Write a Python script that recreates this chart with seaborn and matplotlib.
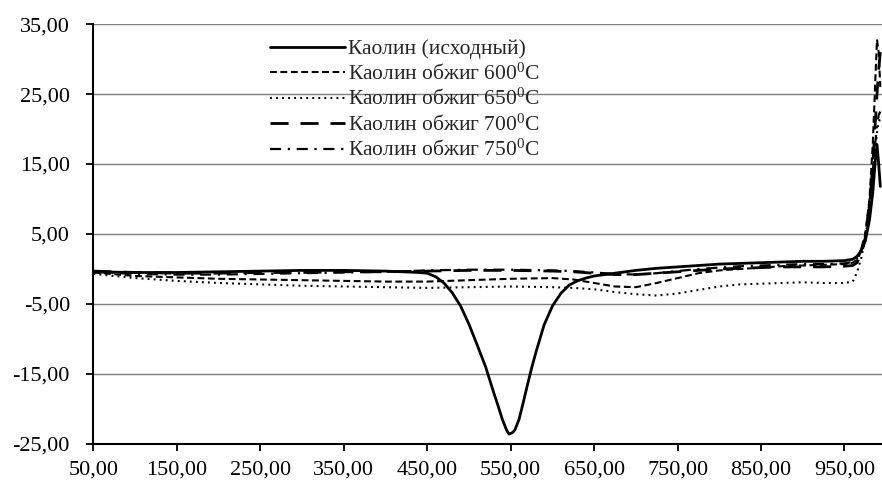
import numpy as np
import pandas as pd
import seaborn as sns
import matplotlib
matplotlib.use("Agg")
import matplotlib.pyplot as plt
from matplotlib.ticker import FuncFormatter, FixedLocator

# ---------------- data ----------------
labels = ["Каолин (исходный)",
          "Каолин обжиг 600$^{\\mathrm{0}}$C",
          "Каолин обжиг 650$^{\\mathrm{0}}$C",
          "Каолин обжиг 700$^{\\mathrm{0}}$C",
          "Каолин обжиг 750$^{\\mathrm{0}}$C"]

t_raw = [50, 100, 150, 200, 250, 300, 350, 400, 440, 450, 460, 470, 480, 490, 500,
         510, 520, 525, 530, 535, 540, 545, 548, 552, 555, 560, 565, 570, 575, 580,
         590, 600, 610, 620, 630, 640, 650, 675, 700, 725, 750, 775, 800, 825, 850,
         875, 900, 925, 950, 960, 965, 970, 975, 980, 984, 987, 989, 991, 993]
v_raw = [-0.4, -0.5, -0.5, -0.4, -0.3, -0.2, -0.2, -0.3, -0.5, -0.6, -1.1, -2.0, -3.4, -5.3, -7.9,
         -10.9, -14.0, -15.9, -17.8, -19.6, -21.5, -23.0, -23.6, -23.4, -23.0, -21.5, -19.1, -16.6, -14.2, -12.0,
         -8.0, -5.3, -3.5, -2.3, -1.7, -1.3, -1.0, -0.6, -0.2, 0.1, 0.3, 0.5, 0.7, 0.8, 0.9,
         1.0, 1.1, 1.1, 1.2, 1.4, 1.8, 2.6, 4.0, 7.0, 11.0, 15.5, 17.8, 15.0, 11.8]

t_fired = [50, 100, 150, 200, 250, 300, 350, 400, 450, 500, 550, 600, 625, 650, 675,
           700, 725, 750, 775, 800, 825, 850, 875, 900, 925, 950, 960, 965, 970, 975,
           980, 984, 987, 989, 991, 993]
v_600 = [-0.5, -1.0, -1.2, -1.4, -1.5, -1.6, -1.7, -1.8, -1.8, -1.6, -1.4, -1.3, -1.5, -2.0, -2.5,
         -2.6, -2.0, -1.3, -0.6, -0.2, 0.0, 0.2, 0.4, 0.5, 0.6, 0.7, 0.9, 1.3, 2.5, 5.0,
         10.0, 18.0, 27.0, 32.8, 31.0, 26.0]
v_650 = [-0.7, -1.3, -1.7, -2.0, -2.2, -2.4, -2.5, -2.6, -2.7, -2.6, -2.5, -2.6, -2.7, -2.9, -3.3,
         -3.6, -3.8, -3.5, -3.0, -2.5, -2.2, -2.1, -2.0, -1.9, -2.0, -2.0, -1.8, -0.5, 1.5, 4.5,
         8.5, 13.0, 17.0, 19.5, 21.0, 21.5]
v_700 = [-0.3, -0.5, -0.6, -0.6, -0.5, -0.5, -0.4, -0.4, -0.3, -0.2, -0.2, -0.3, -0.4, -0.6, -0.8,
         -0.8, -0.6, -0.4, -0.2, 0.0, 0.1, 0.2, 0.3, 0.3, 0.3, 0.4, 0.5, 0.9, 2.0, 4.5,
         9.0, 15.0, 21.0, 25.0, 28.5, 31.0]
v_750 = [-0.4, -0.7, -0.8, -0.8, -0.7, -0.6, -0.5, -0.4, -0.2, -0.1, -0.1, -0.2, -0.3, -0.5, -0.7,
         -0.8, -0.6, -0.3, 0.0, 0.2, 0.4, 0.5, 0.6, 0.7, 0.7, 0.8, 1.0, 1.5, 2.8, 5.0,
         9.5, 14.0, 18.0, 20.5, 22.0, 22.5]

x_ticks = [50, 150, 250, 350, 450, 550, 650, 750, 850, 950]
y_ticks = [-25, -15, -5, 5, 15, 25, 35]

# ---------------- frame ----------------
frames = [pd.DataFrame({"T": t_raw, "v": v_raw, "s": labels[0]})]
for lab, vals in zip(labels[1:], [v_600, v_650, v_700, v_750]):
    frames.append(pd.DataFrame({"T": t_fired, "v": vals, "s": lab}))
df = pd.concat(frames, ignore_index=True)

sns.set_style("white")
plt.rcParams["font.family"] = ["Liberation Serif", "DejaVu Serif"]
plt.rcParams["mathtext.fontset"] = "custom"
plt.rcParams["mathtext.rm"] = "Liberation Serif"
plt.rcParams["mathtext.it"] = "Liberation Serif:italic"

fig = plt.figure(figsize=(8.82, 4.82), dpi=100)
ax = fig.add_axes([0.106, 0.079, 0.894, 0.871])

styles = [
    dict(lw=2.0, dashes=None),
    dict(lw=1.5, dashes=(3.3, 1.7)),
    dict(lw=1.5, dashes=(0.9, 2.0)),
    dict(lw=2.0, dashes=(6.5, 4.3)),
    dict(lw=1.6, dashes=(5.0, 3.0, 1.0, 3.0)),
]

handles = []
for lab, st in zip(labels, styles):
    sub = df[df["s"] == lab]
    sns.lineplot(data=sub, x="T", y="v", ax=ax, color="black", lw=st["lw"],
                 estimator=None, sort=False, legend=False)
    line = ax.lines[-1]
    line.set_solid_joinstyle("round")
    if st["dashes"] is not None:
        line.set_dashes(st["dashes"])
    handles.append(line)

ax.set_xlim(50, 995)
ax.set_ylim(-25, 35)
ax.xaxis.set_major_locator(FixedLocator(x_ticks))
ax.yaxis.set_major_locator(FixedLocator(y_ticks))
fmt = FuncFormatter(lambda v, p: f"{v:.2f}".replace(".", ","))
ax.xaxis.set_major_formatter(fmt)
ax.yaxis.set_major_formatter(fmt)
ax.set_xlabel("")
ax.set_ylabel("")

ax.yaxis.grid(True, color="#7f7f7f", lw=1.0)
ax.xaxis.grid(False)
ax.set_axisbelow(True)
for s in ["top", "right"]:
    ax.spines[s].set_visible(False)
for s in ["left", "bottom"]:
    ax.spines[s].set_color("black")
    ax.spines[s].set_linewidth(1.5)
ax.tick_params(axis="both", direction="out", length=5, width=1.3, color="black",
               labelsize=16, labelcolor="black")
ax.tick_params(axis="y", left=True, pad=12)
ax.tick_params(axis="x", bottom=True, pad=7)

ax.legend(handles, labels, loc="upper left", bbox_to_anchor=(0.306, 0.919),
          bbox_transform=fig.transFigure, frameon=False, fontsize=15.5,
          handlelength=3.5, handletextpad=0.15, labelspacing=0.2, borderpad=0,
          borderaxespad=0)

fig.savefig("out.png", dpi=100)
